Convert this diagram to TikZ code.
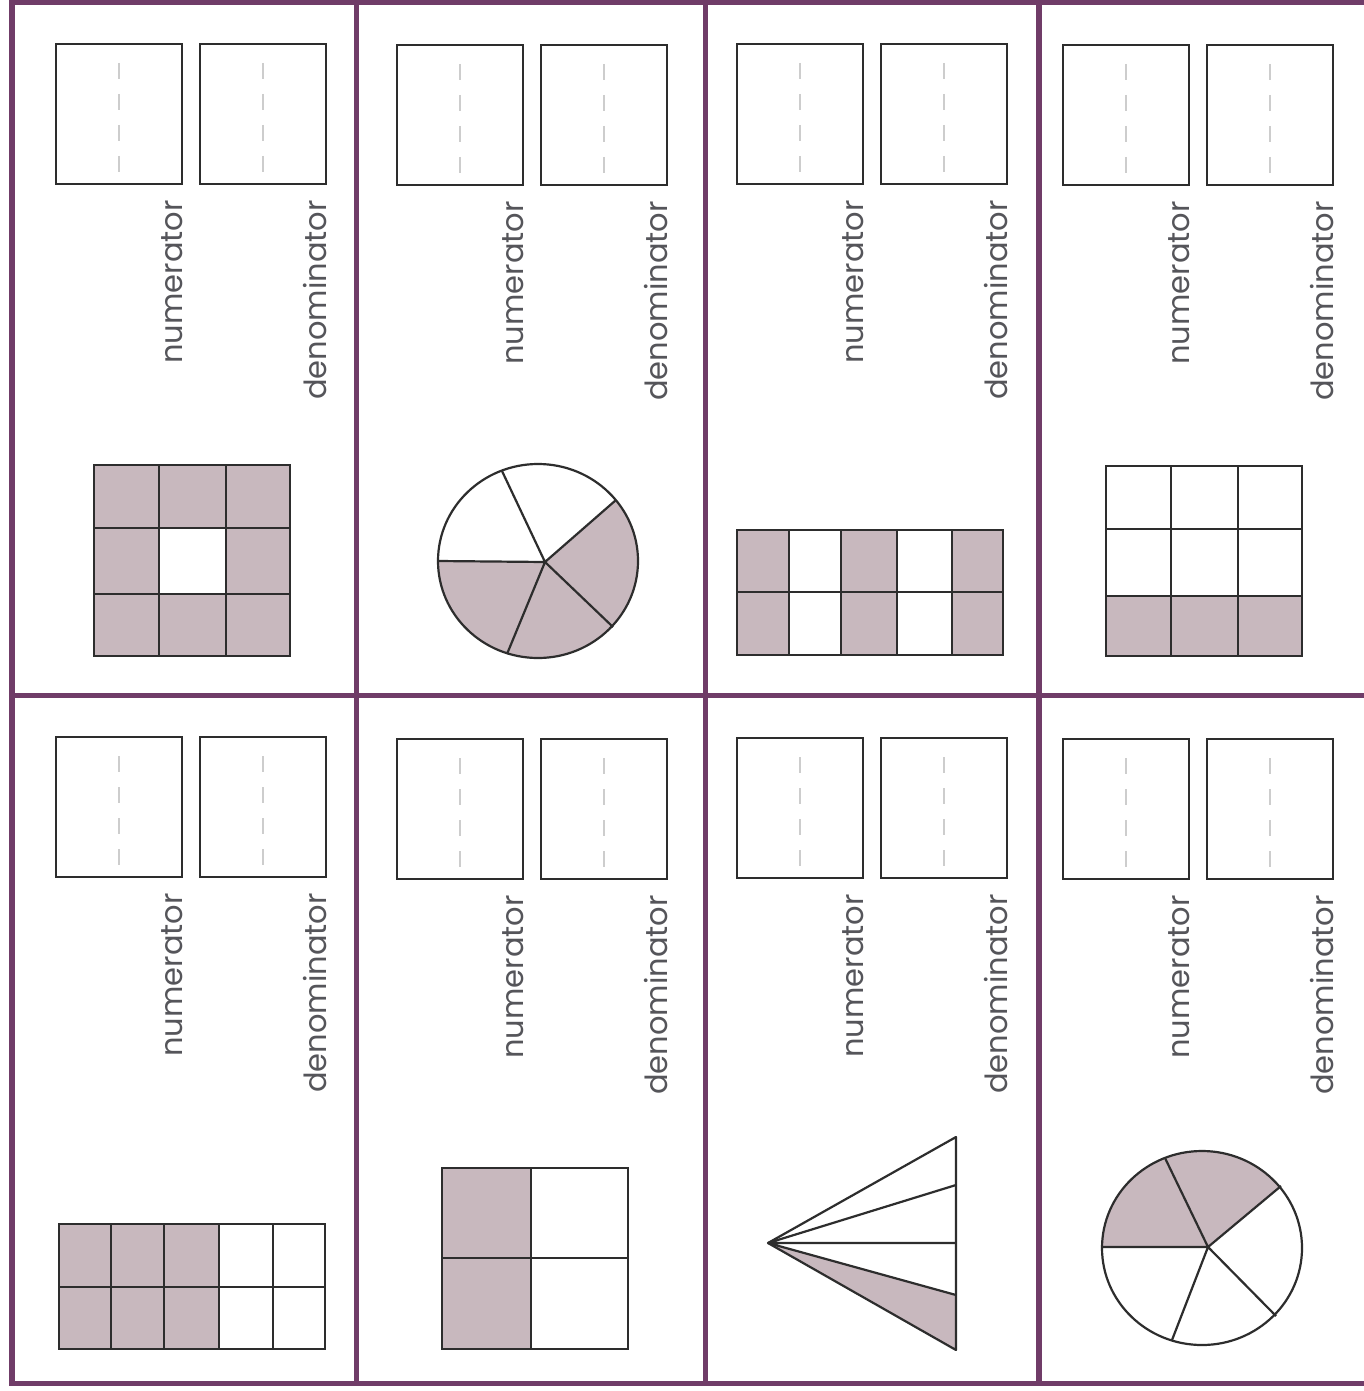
\documentclass[tikz,border=0pt]{standalone}
\usepackage{fontspec}
\setmainfont{Poppins}
\definecolor{framecol}{RGB}{112,60,104}
\definecolor{shadecol}{RGB}{200,184,190}
\definecolor{inkcol}{RGB}{45,45,45}
\definecolor{txtcol}{RGB}{85,85,90}
\definecolor{guidecol}{RGB}{205,205,205}
\tikzset{
  ansbox/.style={draw=inkcol, line width=2pt},
  guideline/.style={draw=guidecol, line width=1.5pt, dash pattern=on 16pt off 15pt},
  lbl/.style={rotate=90, anchor=base east, inner sep=0pt, text=txtcol, font=\fontsize{30.5}{30.5}\selectfont},
  gridline/.style={draw=inkcol, line width=2.2pt},
  shaded/.style={fill=shadecol},
  frameline/.style={draw=framecol, line width=5.5pt},
}
\newcommand\answerboxes[3]{%
  \draw[ansbox] (#1,#2) rectangle ++(126,140);
  \draw[ansbox] (#1+144,#2) rectangle ++(126,140);
  \draw[guideline] (#1+63,#2+19) -- ++(0,109);
  \draw[guideline] (#1+207,#2+19) -- ++(0,109);
  \node[lbl] (#3n) at (#1+126,#2+156) {numerator};
  \node[lbl] (#3d) at (#1+270,#2+156) {denominator};
}
\begin{document}
\begin{tikzpicture}[x=1pt,y=-1pt]
\useasboundingbox (0,0) rectangle (1364,1391);
\fill[white] (0,0) rectangle (1364,1391);

% answer boxes
\answerboxes{56}{44}{a}
\answerboxes{397}{45}{b}
\answerboxes{737}{44}{c}
\answerboxes{1063}{45}{d}
\answerboxes{56}{737}{e}
\answerboxes{397}{739}{f}
\answerboxes{737}{738}{g}
\answerboxes{1063}{739}{h}

% cell 1: 3x3 grid, centre empty
\fill[shaded] (94,465) rectangle (290,656);
\fill[white] (159,528) rectangle (226,594);
\draw[gridline] (94,465) rectangle (290,656);
\draw[gridline] (159,465) -- (159,656) (226,465) -- (226,656)
  (94,528) -- (290,528) (94,594) -- (290,594);

% cell 2: pie with 5 parts, 3 shaded
\begin{scope}
  \clip (538,561) ellipse [x radius=100, y radius=97];
  \fill[shaded] (545,562) -- (420,561) -- (420,680) -- (680,680) -- (683,442) -- cycle;
\end{scope}
\draw[gridline] (538,561) ellipse [x radius=100, y radius=97];
\draw[gridline] (545,562) -- (438,561) (545,562) -- (502,471) (545,562) -- (616,500)
  (545,562) -- (613,627) (545,562) -- (507,654);

% cell 3: 5x2 grid, columns 1,3,5 shaded
\fill[shaded] (737,530) rectangle (789,655) (841,530) rectangle (897,655) (952,530) rectangle (1003,655);
\draw[gridline] (737,530) rectangle (1003,655);
\draw[gridline] (789,530) -- (789,655) (841,530) -- (841,655) (897,530) -- (897,655) (952,530) -- (952,655)
  (737,592) -- (1003,592);

% cell 4: 3x3 grid, bottom row shaded
\fill[shaded] (1106,596) rectangle (1302,656);
\draw[gridline] (1106,466) rectangle (1302,656);
\draw[gridline] (1171,466) -- (1171,656) (1238,466) -- (1238,656)
  (1106,529) -- (1302,529) (1106,596) -- (1302,596);

% cell 5: 5x2 grid, 3 columns shaded
\fill[shaded] (59,1224) rectangle (219,1349);
\draw[gridline] (59,1224) rectangle (325,1349);
\draw[gridline] (111,1224) -- (111,1349) (164,1224) -- (164,1349) (219,1224) -- (219,1349) (273,1224) -- (273,1349)
  (59,1287) -- (325,1287);

% cell 6: 2x2 grid, left column shaded
\fill[shaded] (442,1168) rectangle (531,1349);
\draw[gridline] (442,1168) rectangle (628,1349);
\draw[gridline] (531,1168) -- (531,1349) (442,1258) -- (628,1258);

% cell 7: fan of 4 triangles, bottom one shaded
\fill[shaded] (768,1243) -- (956,1295) -- (956,1350) -- cycle;
\draw[gridline, line join=round] (956,1137) -- (768,1243) -- (956,1350) -- cycle;
\draw[gridline] (768,1243) -- (956,1185) (768,1243) -- (956,1243) (768,1243) -- (956,1295);

% cell 8: pie with 5 parts, 2 shaded
\begin{scope}
  \clip (1202,1248) ellipse [x radius=100, y radius=97];
  \fill[shaded] (1208,1247) -- (1080,1247) -- (1080,1120) -- (1348,1120) -- (1348,1129) -- cycle;
\end{scope}
\draw[gridline] (1202,1248) ellipse [x radius=100, y radius=97];
\draw[gridline] (1208,1247) -- (1102,1247) (1208,1247) -- (1165,1158) (1208,1247) -- (1281,1186)
  (1208,1247) -- (1276,1316) (1208,1247) -- (1172,1340);

% frame
\draw[frameline] (12,2) -- (1364,2);
\draw[frameline] (12,695.5) -- (1364,695.5);
\draw[frameline] (12,1383.5) -- (1364,1383.5);
\draw[frameline] (12,0) -- (12,1386.2);
\draw[frameline] (356.5,0) -- (356.5,1386.2);
\draw[frameline] (705.5,0) -- (705.5,1386.2);
\draw[frameline] (1039,0) -- (1039,1386.2);
\end{tikzpicture}
\end{document}
